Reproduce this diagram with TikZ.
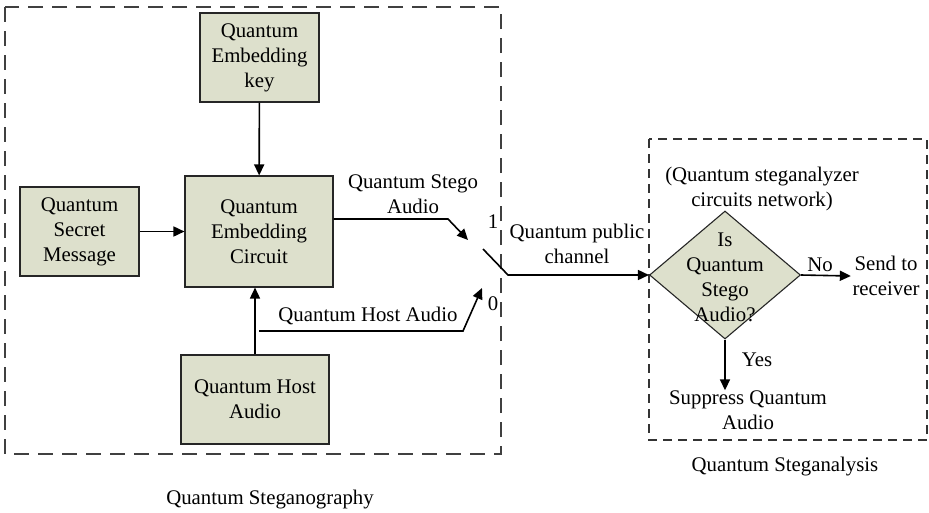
\documentclass[tikz,border=0pt]{standalone}
\usepackage{fontspec}
\setmainfont{Liberation Serif}
\usetikzlibrary{arrows.meta,shapes.geometric}
\definecolor{boxfill}{RGB}{221,224,204}
\begin{document}
\begin{tikzpicture}[x=1pt,y=-1pt, font=\fontsize{20.8}{25}\selectfont,
 box/.style={draw=black!85, line width=1.1pt, fill=boxfill, align=center, inner sep=0pt},
 conn/.style={line width=1.6pt, -{Triangle[length=11pt,width=10pt]}},
 lbl/.style={align=center, inner sep=0pt},
 bigdash/.style={draw=black!75, line width=1.4pt, dash pattern=on 15pt off 9pt},
 smalldash/.style={draw=black!80, line width=1.1pt, dash pattern=on 9pt off 6pt}]
\useasboundingbox (0,0) rectangle (929,512);
\draw[bigdash] (5,7) rectangle (501,454);
\draw[smalldash] (649,139) rectangle (927,440);

\node[box, minimum width=119pt, minimum height=89pt] (key) at (259.5,57.5) {Quantum\\Embedding\\key};
\node[box, minimum width=148pt, minimum height=111pt] (circ) at (259,231.5) {Quantum\\Embedding\\Circuit};
\node[box, minimum width=119pt, minimum height=89pt] (msg) at (79.5,231.5) {Quantum\\Secret\\Message};
\node[box, minimum width=148pt, minimum height=89pt] (host) at (255,399.5) {Quantum Host\\Audio};

\node[diamond, draw=black!85, line width=1.1pt, fill=boxfill, minimum width=151pt, minimum height=128pt, inner sep=0pt] (dia) at (725,275) {};
\node[lbl] (diatext) at (725,277) {Is\\Quantum\\Stego\\Audio?};

\node[lbl, inner sep=1.5pt] (send) at (886,276) {Send to\\receiver};
\node[lbl] (supp) at (748,410) {Suppress Quantum\\Audio};

\node[lbl] (lstego) at (413,194) {Quantum Stego\\Audio};
\node[lbl] (lhost) at (368,316) {Quantum Host Audio};
\node[lbl] (lone) at (493,222) {1};
\node[lbl] (lzero) at (493,304) {0};
\node[lbl] (lpub) at (577,244) {Quantum public\\channel};
\node[lbl] (lnet) at (762,189) {(Quantum steganalyzer\\circuits network)};
\node[lbl] (lno) at (820,265) {No};
\node[lbl] (lyes) at (757,360) {Yes};
\node[lbl] (lana) at (785,467) {Quantum Steganalysis};
\node[lbl] (lgra) at (270,500) {Quantum Steganography};

\draw[conn] (key) -- (circ);
\draw[conn] (msg) -- (circ);
\draw[conn] (host.north) -- (host.north |- circ.south);

\coordinate (ha0) at (259,331);
\coordinate (ha1) at (463,331);
\coordinate (sw0) at (482,288);
\draw[conn] (ha0) -- (ha1) -- (sw0);

\coordinate (st1) at (448,219);
\coordinate (sw1) at (468,240);
\draw[conn] (circ.east |- st1) -- (st1) -- (sw1);

\coordinate (swA) at (483,249);
\coordinate (swB) at (508,275);
\draw[conn] (swA) -- (swB) -- (dia.west);

\draw[conn] (dia.east) -- (send.west);
\draw[conn] (dia.south) -- (dia.south |- supp.north);
\end{tikzpicture}
\end{document}
